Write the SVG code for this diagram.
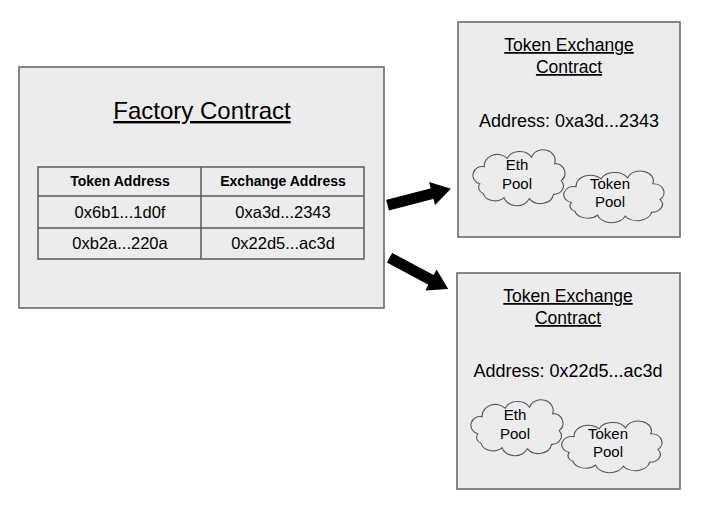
<svg xmlns="http://www.w3.org/2000/svg" width="703" height="514" viewBox="0 0 703 514">
<style>
  .box { fill: #ececec; stroke: #6a6a6a; stroke-width: 1.6; }
  .cell { fill: #ececec; stroke: #5a5a5a; stroke-width: 1.5; }
  .cloud { fill: #ececec; stroke: #555555; stroke-width: 1; vector-effect: non-scaling-stroke; }
  text { font-family: "Liberation Sans", Arial, sans-serif; fill: #000; text-anchor: middle; }
  .title { font-size: 24px; text-decoration: underline; }
  .subtitle { font-size: 17.5px; text-decoration: underline; }
  .addr { font-size: 18px; }
  .th { font-size: 14px; font-weight: bold; }
  .td { font-size: 16.5px; }
  .pool { font-size: 15px; }
  .arrow { fill: #000; stroke: #000; stroke-width: 1; stroke-linejoin: miter; }
</style>
<defs>
  <path id="cloudShape" d="M 8 30 A 8 8 0 0 1 12 14 A 12 11 0 0 1 33 6 A 12 10 0 0 1 55 5 A 11 10 0 0 1 76 11 A 9 9 0 0 1 82 27 A 9 8 0 0 1 75 40 A 12 10 0 0 1 53 44 A 12 10 0 0 1 30 43 A 11 9 0 0 1 11 39 A 6 6 0 0 1 8 30 Z"/>
</defs>
<rect width="703" height="514" fill="#ffffff"/>

<g id="factory">
  <rect class="box" x="19" y="67" width="365" height="241"/>
  <text class="title" x="202" y="119">Factory Contract</text>
  <rect class="cell" x="38" y="167" width="326" height="92"/>
  <line class="cell" x1="201" y1="167" x2="201" y2="259"/>
  <line class="cell" x1="38" y1="196" x2="364" y2="196"/>
  <line class="cell" x1="38" y1="228" x2="364" y2="228"/>
  <text class="th" x="120" y="186">Token Address</text>
  <text class="th" x="283" y="186">Exchange Address</text>
  <text class="td" x="120" y="218">0x6b1...1d0f</text>
  <text class="td" x="283" y="218">0xa3d...2343</text>
  <text class="td" x="120" y="249">0xb2a...220a</text>
  <text class="td" x="283" y="249">0x22d5...ac3d</text>
</g>

<g id="exchange1">
  <rect class="box" x="458" y="22" width="222" height="215"/>
  <text class="subtitle" x="569" y="51">Token Exchange</text>
  <text class="subtitle" x="569" y="73">Contract</text>
  <text class="addr" x="569" y="127">Address: 0xa3d...2343</text>
  <use href="#cloudShape" class="cloud" transform="translate(471,152) scale(1.1,1.06)"/>
  <text class="pool" x="517" y="170">Eth</text>
  <text class="pool" x="517" y="189">Pool</text>
  <use href="#cloudShape" class="cloud" transform="translate(561.6,173) scale(1.2,0.98)"/>
  <text class="pool" x="610" y="189">Token</text>
  <text class="pool" x="610" y="207">Pool</text>
</g>

<g id="exchange2">
  <rect class="box" x="457" y="273" width="223" height="216"/>
  <text class="subtitle" x="568" y="302">Token Exchange</text>
  <text class="subtitle" x="568" y="324">Contract</text>
  <text class="addr" x="568" y="377">Address: 0x22d5...ac3d</text>
  <use href="#cloudShape" class="cloud" transform="translate(469,402) scale(1.1,1.06)"/>
  <text class="pool" x="515" y="420">Eth</text>
  <text class="pool" x="515" y="439">Pool</text>
  <use href="#cloudShape" class="cloud" transform="translate(559.6,423) scale(1.2,0.98)"/>
  <text class="pool" x="608" y="439">Token</text>
  <text class="pool" x="608" y="457">Pool</text>
</g>

<g id="connectors">
  <polygon class="arrow" transform="translate(388,205) rotate(-14.5)" points="0,-5 46,-5 46,-11 64,0 46,11 46,5 0,5"/>
  <polygon class="arrow" transform="translate(390,258) rotate(28.1)" points="0,-5 47,-5 47,-11 65,0 47,11 47,5 0,5"/>
</g>
</svg>
